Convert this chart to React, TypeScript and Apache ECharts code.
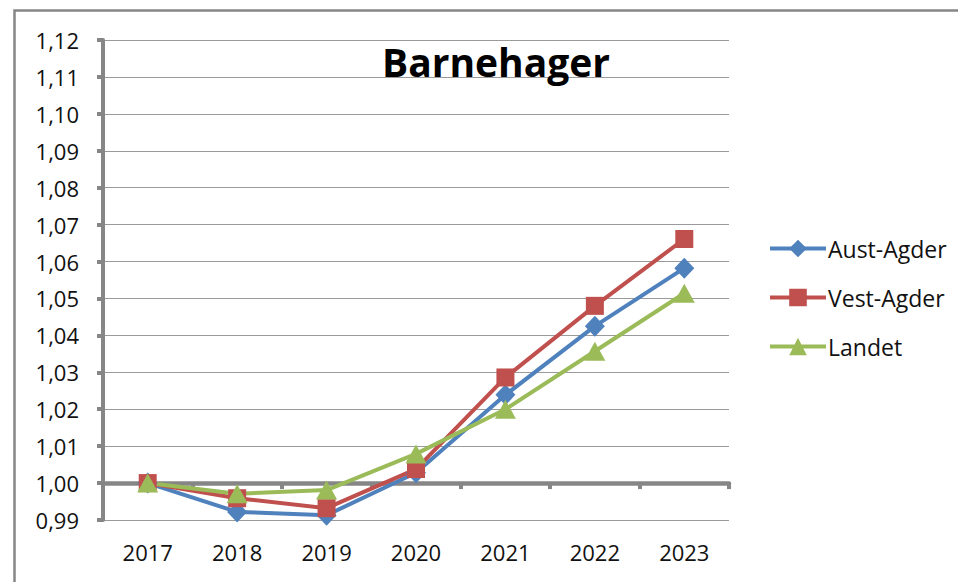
import React, { useEffect, useRef } from "react";
import * as echarts from "echarts";

const years = ["2017", "2018", "2019", "2020", "2021", "2022", "2023"];
const austAgder = [1.0, 0.9922, 0.9913, 1.0028, 1.0239, 1.0425, 1.0582];
const vestAgder = [1.0, 0.9959, 0.9932, 1.0038, 1.0286, 1.048, 1.0661];
const landet = [1.0, 0.9971, 0.9981, 1.0079, 1.02, 1.0357, 1.0514];
const titleText = "Barnehager";

const W = 958;
const H = 582;
const GRID_TOP = 40;
const GRID_BOTTOM = 62;
const GRID_LEFT = 103;
const GRID_RIGHT = 229;
const Y_MIN = 0.99;
const Y_MAX = 1.12;
const Y_STEP = 0.01;

const FONT = "'Open Sans', 'Noto Sans', sans-serif";
const AXIS_GRAY = "#868686";
const TEXT = "#111111";

export default function App() {
  const ref = useRef<HTMLDivElement>(null);

  useEffect(() => {
    document.body.style.margin = "0";
    if (!ref.current) return;
    const chart = echarts.init(ref.current, undefined, { renderer: "svg" });
    const plotH = H - GRID_TOP - GRID_BOTTOM;
    const stepPx = plotH / Math.round((Y_MAX - Y_MIN) / Y_STEP);
    const axisOffset = -stepPx * Math.round((1.0 - Y_MIN) / Y_STEP);

    const mk = (name: string, data: number[], color: string, symbol: string, size: number | number[]) => ({
      name,
      type: "line",
      data,
      color,
      symbol,
      symbolSize: size,
      lineStyle: { color, width: 4 },
      itemStyle: { color },
    });

    chart.setOption({
      animation: false,
      backgroundColor: "#ffffff",
      textStyle: { fontFamily: FONT },
      grid: { left: GRID_LEFT, right: GRID_RIGHT, top: GRID_TOP, bottom: GRID_BOTTOM },
      graphic: [
        {
          type: "rect",
          shape: { x: 14.5, y: 10.5, width: 1200, height: 1200 },
          style: { fill: "none", stroke: AXIS_GRAY, lineWidth: 2.5 },
          silent: true,
        },
        {
          type: "text",
          x: 496,
          y: 61,
          z: 10,
          style: {
            text: titleText,
            fontFamily: FONT,
            fontWeight: "bold",
            fontSize: 39,
            fill: "#000000",
            textAlign: "center",
            textVerticalAlign: "middle",
          },
        },
      ],
      legend: {
        orient: "vertical",
        left: 763,
        top: 232,
        itemWidth: 56,
        itemHeight: 22,
        itemGap: 26,
        lineStyle: { width: 4 },
        textStyle: { fontFamily: FONT, fontSize: 23, color: TEXT, padding: [0, 0, 0, -3] },
        data: ["Aust-Agder", "Vest-Agder", "Landet"],
      },
      xAxis: {
        type: "category",
        data: years,
        boundaryGap: true,
        offset: axisOffset,
        axisLine: { show: true, lineStyle: { color: AXIS_GRAY, width: 4.5 } },
        axisTick: { show: true, length: 6, lineStyle: { color: AXIS_GRAY, width: 4 } },
        axisLabel: { margin: 58, fontFamily: FONT, fontSize: 22, color: TEXT },
        splitLine: { show: false },
      },
      yAxis: {
        type: "value",
        min: Y_MIN,
        max: Y_MAX,
        interval: Y_STEP,
        axisLine: { show: true, lineStyle: { color: AXIS_GRAY, width: 4 } },
        axisTick: { show: true, length: 6, lineStyle: { color: AXIS_GRAY, width: 4 } },
        axisLabel: {
          margin: 24,
          fontFamily: FONT,
          fontSize: 22,
          color: TEXT,
          formatter: (v: number) => v.toFixed(2).replace(".", ","),
        },
        splitLine: { show: true, lineStyle: { color: "#9a9a9a", width: 1 } },
      },
      series: [
        mk("Aust-Agder", austAgder, "#4F81BD", "diamond", [20, 21]),
        mk("Vest-Agder", vestAgder, "#C0504D", "rect", 18),
        mk("Landet", landet, "#9BBB59", "triangle", [21, 19]),
      ],
    });

    return () => chart.dispose();
  }, []);

  return <div ref={ref} style={{ width: W, height: H }} />;
}
